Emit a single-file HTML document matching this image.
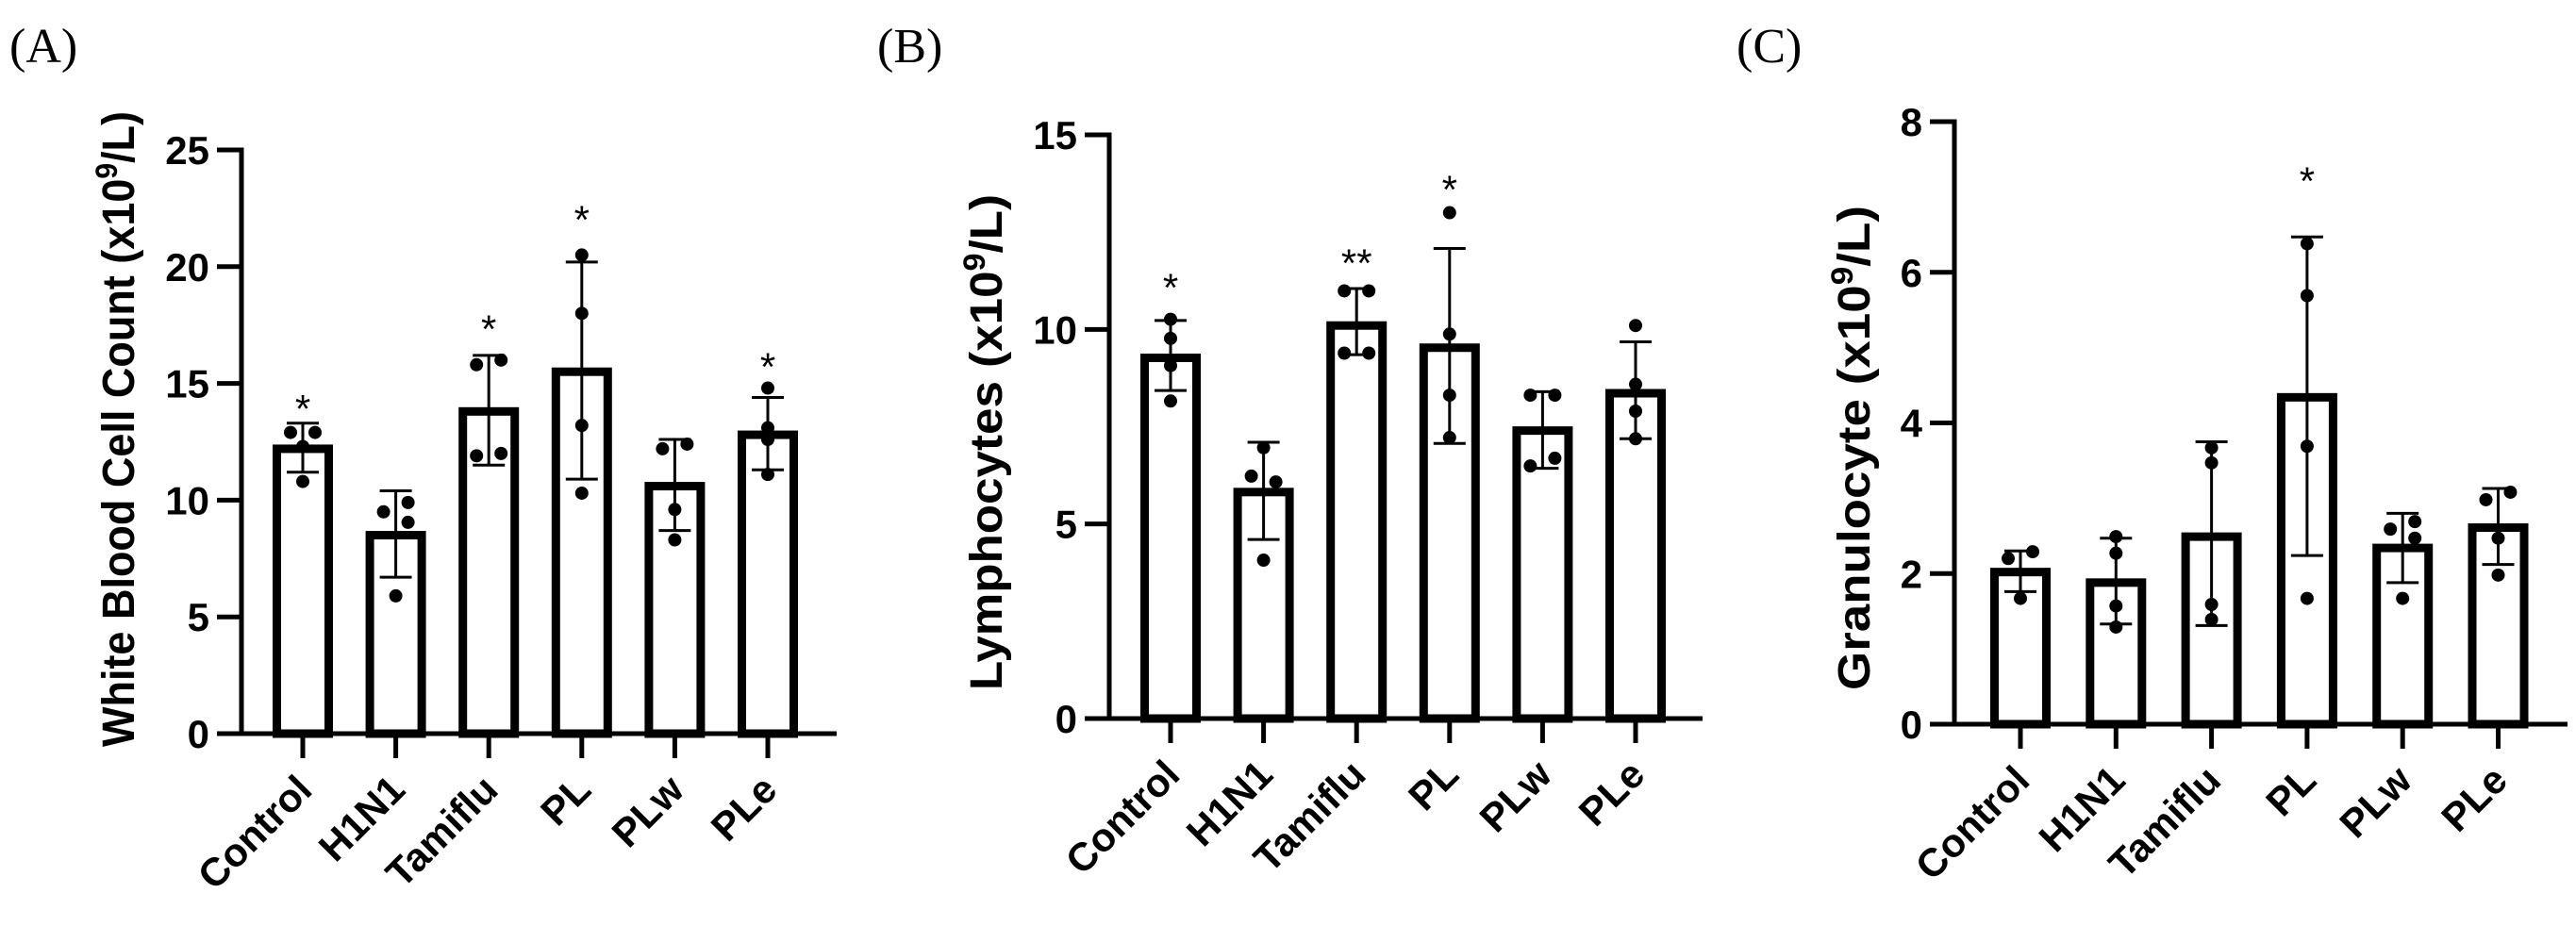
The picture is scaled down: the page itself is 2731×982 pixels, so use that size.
<!DOCTYPE html>
<html><head><meta charset="utf-8"><style>
html,body{margin:0;padding:0;background:#fff;}
svg{display:block;}
</style></head><body>
<svg id="fig" width="2731" height="982" viewBox="0 0 2731 982" xmlns="http://www.w3.org/2000/svg" style="font-family:'Liberation Sans',Arial,sans-serif"></svg>
<script>
const categories = ["Control","H1N1","Tamiflu","PL","PLw","PLe"];

// Panel A: White Blood Cell Count
const aMeans = [12.2, 8.5, 13.8, 15.5, 10.6, 12.8];
const aErrLow = [11.2, 6.7, 11.5, 10.9, 8.7, 11.3];
const aErrHigh = [13.3, 10.4, 16.2, 20.2, 12.6, 14.4];
const aPoints = [[12.9,12.9,12.3,10.8],[9.5,9.9,9.05,5.9],[15.8,16.0,11.9,12.0],[20.5,18.0,13.2,10.3],[12.2,12.4,9.6,8.3],[14.8,13.1,12.6,11.1]];
const aStars = ["*","","*","*","","*"];
const aStarAt = [14.3, 0, 17.7, 22.4, 0, 16.1];
const aTicks = [0,5,10,15,20,25];

// Panel B: Lymphocytes
const bMeans = [9.27, 5.82, 10.1, 9.53, 7.4, 8.36];
const bErrLow = [8.43, 4.6, 9.35, 7.07, 6.43, 7.19];
const bErrHigh = [10.23, 7.1, 11.05, 12.08, 8.4, 9.68];
const bPoints = [[10.26,9.77,9.07,8.16],[6.96,6.23,6.08,4.07],[10.99,10.99,9.39,9.39],[13.0,9.88,8.31,7.22],[8.31,8.31,6.49,6.69],[10.1,8.59,7.9,7.19]];
const bStars = ["*","","**","*","",""];
const bStarAt = [11.3, 0, 11.93, 13.83, 0, 0];
const bTicks = [0,5,10,15];

// Panel C: Granulocyte
const cMeans = [2.02, 1.88, 2.49, 4.34, 2.34, 2.61];
const cErrLow = [1.76, 1.33, 1.31, 2.24, 1.88, 2.12];
const cErrHigh = [2.3, 2.47, 3.75, 6.47, 2.8, 3.13];
const cPoints = [[2.2,2.29,1.67],[2.49,2.27,1.57,1.29],[3.67,3.47,1.59,1.39],[6.38,5.69,3.69,1.67],[2.59,2.69,2.47,1.67],[2.98,3.08,2.47,1.98]];
const cStars = ["","","","*","",""];
const cStarAt = [0,0,0,7.33,0,0];
const cTicks = [0,2,4,6,8];

// layout only (horizontal jitter multipliers per point)
const jitter = [[-1,1,0,0],[-1,1,1,0],[-1,1,-1,1],[0,0,0,0],[-1,1,0,0],[0,0,0,0]];
const jitterB = [[0,0,0,0],[0,-1,1,0],[-1,1,-1,1],[0,0,0,0],[-1,1,-1,1],[0,0,0,0]];
const jitterC = [[-1,1,0],[0,0,0,0],[0,0,0,0],[0,0,0,0],[-1,1,1,0],[-1,1,0,0]];

const NS = "http://www.w3.org/2000/svg";
const svg = document.getElementById("fig");
function mk(tag, attrs, parent){const e=document.createElementNS(NS,tag);for(const k in attrs)e.setAttribute(k,attrs[k]);(parent||svg).appendChild(e);return e;}

function panel(cfg){
  const g = mk("g",{});
  
  
  const yMax = cfg.ticks[cfg.ticks.length-1];
  const y = v => cfg.y0 - (v/yMax)*(cfg.y0-cfg.yTop);
  const x = i => cfg.x0 + i*cfg.step;
  const pl = mk("text",{x:cfg.labelX,y:66,"font-size":52,style:"font-family:'Liberation Serif',serif"},g);
  pl.textContent = cfg.label;
  
  
  cfg.means.forEach((m,i)=>{
    const r = mk("rect",{x:x(i)-27.5,y:y(m),width:55,height:cfg.y0-y(m),fill:"#fff",stroke:"#000","stroke-width":9},g);
    
    
  });
  cfg.means.forEach((m,i)=>{
    const e = mk("g",{stroke:"#000","stroke-width":3},g);
    
    
    mk("line",{x1:x(i),x2:x(i),y1:y(cfg.lo[i]),y2:y(cfg.hi[i])},e);
    mk("line",{x1:x(i)-17,x2:x(i)+17,y1:y(cfg.lo[i]),y2:y(cfg.lo[i])},e);
    mk("line",{x1:x(i)-17,x2:x(i)+17,y1:y(cfg.hi[i]),y2:y(cfg.hi[i])},e);
  });
  cfg.points.forEach((pts,i)=>{
    pts.forEach((p,j)=>{
      const c = mk("circle",{cx:x(i)+cfg.jit[i][j]*13,cy:y(p),r:7,fill:"#000"},g);
      
      
    });
  });
  cfg.stars.forEach((s,i)=>{
    if(!s) return;
    const t = mk("text",{x:x(i),y:y(cfg.starAt[i])+24,"text-anchor":"middle","font-size":42},g);
    t.textContent = s;
    
    
  });
  const ax = mk("g",{stroke:"#000","stroke-width":5},g);
  
  
  mk("line",{x1:cfg.axX,x2:cfg.axX,y1:y(yMax)-2.5,y2:cfg.y0},ax);
  mk("line",{x1:cfg.axX-2.5,x2:cfg.xEnd,y1:cfg.y0,y2:cfg.y0},ax);
  cfg.ticks.forEach(t=>{
    mk("line",{x1:cfg.axX-26,x2:cfg.axX,y1:y(t),y2:y(t)},ax);
    const tl = mk("text",{x:cfg.axX-34,y:y(t)+15,"text-anchor":"end","font-size":42,"font-weight":"bold"},g);
    tl.textContent = t;
    
    
  });
  categories.forEach((c,i)=>{
    mk("line",{x1:x(i),x2:x(i),y1:cfg.y0,y2:cfg.y0+26},ax);
    const tl = mk("text",{x:0,y:0,"text-anchor":"end","font-size":42,"font-weight":"bold",transform:`translate(${x(i)+12},${cfg.y0+62}) rotate(-45)`},g);
    tl.textContent = c;
    
    
  });
  const yt = mk("text",{x:0,y:0,"text-anchor":"middle","font-size":48,"font-weight":"bold",textLength:cfg.titleLen,lengthAdjust:"spacingAndGlyphs",transform:`translate(${cfg.titleX},${cfg.titleY}) rotate(-90)`},g);
  yt.innerHTML = cfg.title;
  
  
}

const sup = '(x10<tspan dy="-18" font-size="32">9</tspan><tspan dy="18">/L)</tspan>';
panel({name:"panel-a-wbc",label:"(A)",labelX:10,x0:321,step:98.6,axX:256,xEnd:887,y0:778,yTop:159,ticks:aTicks,means:aMeans,lo:aErrLow,hi:aErrHigh,points:aPoints,jit:jitter,stars:aStars,starAt:aStarAt,titleX:142,titleY:455,titleLen:674,title:'White Blood Cell Count '+sup});
panel({name:"panel-b-lymphocytes",label:"(B)",labelX:930,x0:1241,step:98.6,axX:1176,xEnd:1805,y0:762,yTop:143,ticks:bTicks,means:bMeans,lo:bErrLow,hi:bErrHigh,points:bPoints,jit:jitterB,stars:bStars,starAt:bStarAt,titleX:1062,titleY:469,titleLen:526,title:'Lymphocytes '+sup});
panel({name:"panel-c-granulocyte",label:"(C)",labelX:1841,x0:2142,step:101.3,axX:2072,xEnd:2722,y0:768,yTop:129,ticks:cTicks,means:cMeans,lo:cErrLow,hi:cErrHigh,points:cPoints,jit:jitterC,stars:cStars,starAt:cStarAt,titleX:1982,titleY:475,titleLen:514,title:'Granulocyte '+sup});
</script>
</body></html>
